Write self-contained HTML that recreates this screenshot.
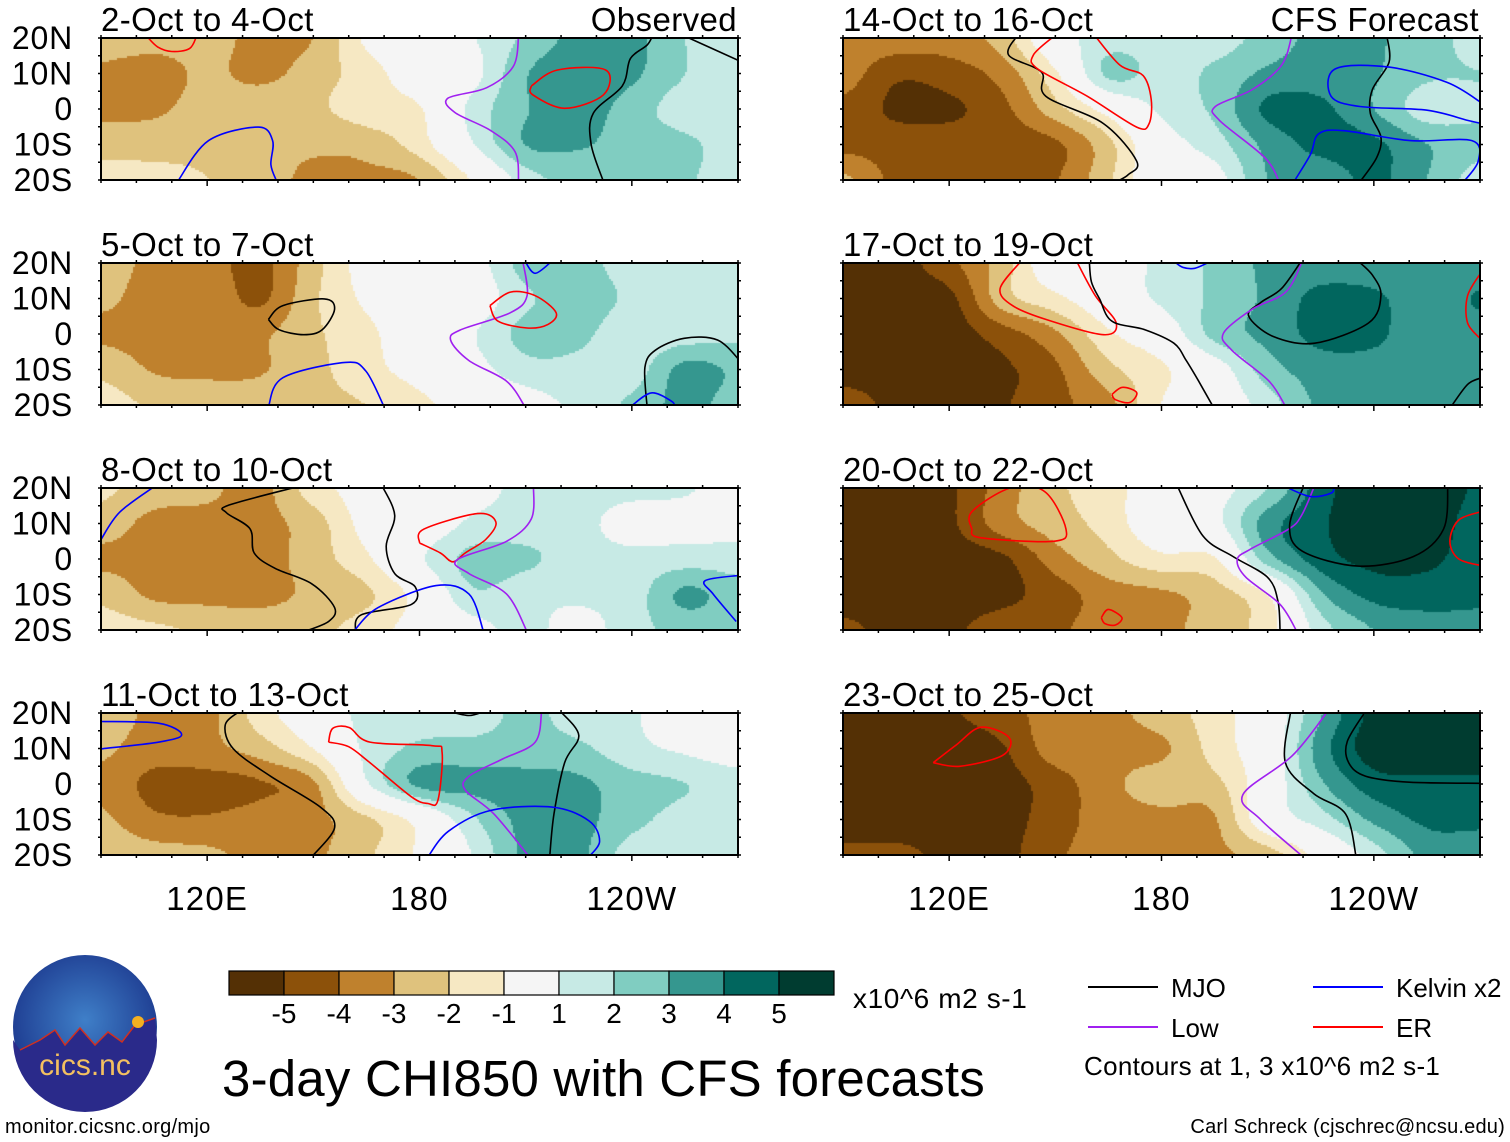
<!DOCTYPE html>
<html><head><meta charset="utf-8">
<style>
html,body{margin:0;padding:0;background:#fff;}
#wrap{position:relative;width:1510px;height:1142px;overflow:hidden;font-family:"Liberation Sans",sans-serif;}
canvas{position:absolute;}
svg{position:absolute;left:0;top:0;}
text{font-family:"Liberation Sans",sans-serif;fill:#000;}
</style></head>
<body>
<div id="wrap">
<svg id="svg" width="1510" height="1142"></svg>
</div>
<script>
// ---- data ----
const lons = [90,105,120,135,150,165,180,195,210,225,240,255,270];
const lats = [20,10,0,-10,-20];
const levels = [-5,-4,-3,-2,-1,1,2,3,4,5];
const levelColors = ['#543005','#8c510a','#bf812d','#dfc27d','#f6e8c3','#f5f5f5','#c7eae5','#80cdc1','#35978f','#01665e','#003c30'];
const panelTitles = ['2-Oct to 4-Oct','14-Oct to 16-Oct','5-Oct to 7-Oct','17-Oct to 19-Oct','8-Oct to 10-Oct','20-Oct to 22-Oct','11-Oct to 13-Oct','23-Oct to 25-Oct'];
const latLabels = ['20N','10N','0','10S','20S'];
const lonTicks = [120,180,240];
const lonTickLabels = ['120E','180','120W'];
const field1 = [
[-2.5,-2.6,-2.6,-3.3,-3,-0.8,0,0.9,2.2,3.3,3.3,2,1.2],
[-3.2,-3.5,-2.8,-3.3,-2.5,-1.5,-0.2,0.6,2.9,3.7,3.2,2,1.5],
[-3.2,-3.2,-2.5,-2.3,-2.2,-1.5,-1.1,1.3,2.9,3.5,2.5,1.5,1.3],
[-2.5,-2.4,-2.3,-2.5,-2.8,-2.6,-1.5,0.9,3,3.1,2.5,2.2,1.5],
[-1.5,-1.7,-2,-2.5,-3.3,-3.3,-3,-0.9,1.5,2.3,2.3,2.1,1.5]];
const field2 = [
[-3.3,-3.4,-3.5,-2.5,0.3,1.5,1.5,1.5,2.4,3.3,3.1,2.5,1.5],
[-3.5,-4.8,-4.5,-3.6,-1.2,2.2,1.6,2.2,3.2,3.5,3.1,2.2,2],
[-4.3,-5.2,-5.2,-4.3,-2.4,-0.5,1.2,2.2,4.2,4.2,3,1.5,1.8],
[-4.3,-4.5,-4.5,-4.5,-4.2,-2.3,0.3,1.5,3.3,4.3,4.2,3,2.3],
[-2.8,-4.3,-4.4,-4.3,-4.1,-2.2,0.2,0.5,3,3.3,4.2,3,1.5]];
const field3 = [
[-2.5,-3.3,-3.6,-4.3,-2.4,-0.5,0,0.4,2.4,2.3,1.6,1.5,1.4],
[-2.8,-3.4,-3.3,-4.2,-2.2,-0.8,0,0.2,1.8,2.4,1.8,1.3,1.2],
[-3.2,-3.4,-3.4,-3.2,-2.2,-1.3,0,0.9,2.3,2.2,1.4,1.5,1.7],
[-2.3,-3.1,-3.2,-3.1,-2.3,-1.4,-0.5,0.5,1.6,1.7,1.5,3.3,2.8],
[-1.5,-2.2,-2.5,-2.5,-2.3,-2,-1.3,-0.3,0.4,1.3,2.2,3.3,2.5]];
const field4 = [
[-5.3,-5.4,-4.3,-2.5,0,0.2,1.3,2.2,3.2,3.4,3.3,3.2,3.3],
[-5.5,-5.5,-5.3,-2.5,-1.3,0,1.2,2.2,3.2,4.3,4.2,3.3,4.1],
[-5.5,-5.5,-5.5,-4.5,-3.2,-1.2,0,2.3,3.3,4.3,4.2,3.3,3.5],
[-5.5,-5.5,-5.5,-5.2,-4.2,-2.3,-1.2,0.3,2.5,3.5,3.6,3.4,3.4],
[-4.5,-5.3,-5.3,-5.1,-4.3,-3.3,-1,0,1.5,3.2,3.4,3.4,3.4]];
const field5 = [
[-1.8,-2.5,-2.8,-3.3,-1.5,-0.5,0,0.5,1.3,1.4,1.3,1.1,0.5],
[-2.5,-3.3,-3.3,-3.3,-2.5,-0.6,0,1.2,1.4,1.3,0.5,0.6,0.5],
[-3.2,-3.3,-3.3,-3.4,-2.5,-1.2,0.8,2.3,2.2,1.4,1.3,1.5,1.5],
[-2.3,-3.2,-3.3,-3.3,-2.8,-2.2,-0.5,1.8,1.3,1.2,1.5,3.2,2.4],
[-1.5,-1.8,-2.2,-2.5,-2.3,-1.5,-0.5,0.5,1.3,0.5,1.6,2.3,2.3]];
const field6 = [
[-5.5,-5.5,-5.2,-3.5,-2.2,-1.5,0,0.5,2,4.5,5.8,5.8,4.8],
[-5.5,-5.5,-5.2,-3.5,-2.5,-1.6,0,0.6,3.5,4.8,5.8,5.6,4.5],
[-5.5,-5.5,-5.5,-5.2,-3.5,-2.3,-1.3,-1.1,2.5,4.5,5.3,5.2,4.5],
[-5.5,-5.5,-5.5,-5.3,-4.5,-3.5,-3.2,-2.5,-1,2.8,4.3,4.5,4.3],
[-4.8,-5.3,-5.2,-4.5,-4.2,-3.5,-3.3,-2.5,-1.5,1.5,3,3.5,3.5]];
const field7 = [
[-2.5,-3.2,-3.3,-1.5,0,1.3,1.4,1.5,2.2,1.5,1.1,0.3,0.2],
[-2.8,-3.5,-3.3,-2.5,-1,1.2,2.2,2.3,2.4,2.2,1.3,0.8,0.3],
[-3.3,-4.3,-4.4,-4.1,-3.2,0.8,3.2,3.3,3.4,3.2,2.4,2,1.5],
[-2.8,-3.8,-3.9,-3.6,-3.3,-2.2,-0.5,1.8,3.3,3.3,2.3,1.6,1.3],
[-2.3,-2.6,-2.8,-3.3,-3.2,-2.2,-0.8,1,3.2,3.2,1.5,1.3,1.2]];
const field8 = [
[-5.2,-5.3,-5.1,-4.5,-3.5,-3.3,-2.5,-1.5,0,2.9,5.3,5.8,5.8],
[-5.5,-5.5,-5.5,-5.1,-3.5,-3.3,-3.2,-1.6,0,3.5,5.5,5.8,5.8],
[-5.5,-5.5,-5.5,-5.4,-4.5,-3.3,-2.5,-2.3,0,2.8,4.5,4.7,4.7],
[-5.5,-5.5,-5.5,-5.4,-4.5,-3.5,-3.3,-3.1,0,1.5,3.2,4.2,4.2],
[-4.8,-4.8,-5.2,-5.3,-4.2,-3.5,-3.3,-3.2,-2.5,-0.5,1.5,3.3,3.5]];
const fields = [field1,field2,field3,field4,field5,field6,field7,field8];
// contour lines [type, [[lon,lat],...]]
const lines1 = [
['low',[[208,20.5],[206.5,12],[199,6],[188,3],[190,-1],[200,-6],[207,-12],[208,-20.5]]],
['er',[[211.6,6.5],[219,11],[232.6,11],[232,4],[221,0.2],[212,4],[211.6,6.5]]],
['mjo',[[246,21],[244.3,18],[239.6,14.2],[237.3,6.5],[229.1,-1.2],[228.5,-9.9],[232,-20.5]]],
['mjo',[[255,20.5],[270.5,13.5]]],
['kelvin',[[111.6,-20.5],[120.4,-8.9],[134.4,-5.1],[138.5,-8.9],[138,-15.7],[139.7,-20.5]]],
['er',[[102.9,20.5],[106,17.5],[110,16.2],[115,17],[117,20.5]]]];
const lines2 = [
['mjo',[[139.5,21],[136.8,15.2],[146.1,10.4],[147.3,3.6],[163.6,-4.1],[173,-14.7],[170.6,-18.5],[167.2,-20.5]]],
['mjo',[[243.7,20.5],[244.3,13.2],[239.6,5.5],[239,-1.2],[242,-7.9],[240.8,-13.7],[236.1,-20.5]]],
['er',[[149.6,20.5],[143.8,15.2],[145,11.3],[159,3.6],[173,-5.1],[176.5,-4.1],[177.1,2.7],[174.8,9.4],[168.3,12.3],[161.3,20.5]]],
['low',[[216.8,20.5],[213.9,12.3],[205.7,5.5],[195.2,0.7],[196.4,-3.2],[209.2,-13.7],[213.3,-20.5]]],
['kelvin',[[270.5,1.7],[260.7,7.5],[244.3,11.8],[229.1,11.3],[227.9,3.6],[236.1,0.7],[254.8,-0.3],[266.5,-3.2],[270.5,-4.1]]],
['kelvin',[[217.4,-20.5],[222.1,-12.8],[224.4,-7],[231.5,-6.1],[250.2,-8.9],[267.7,-8.9],[269.5,-14.7],[265.4,-20.5]]]];
const lines3 = [
['mjo',[[137.3,4.1],[141.4,8],[153.1,9.9],[156,7],[152.5,1.2],[147.3,-0.2],[140.3,1.2],[137.3,4.1]]],
['mjo',[[244.3,-20.5],[243.7,-9.4],[246.6,-4.6],[254.8,-1.2],[264.2,-1.7],[270.5,-7.5]]],
['low',[[209.2,20.5],[210.4,10.8],[205.7,6],[191.7,1.2],[188.8,-1.7],[194,-7.5],[204.6,-13.3],[209.8,-20.5]]],
['er',[[199.9,8],[205.7,11.8],[212.7,10.8],[218.6,6],[216.3,2.7],[210.4,1.7],[202.2,3.6],[199.9,8]]],
['kelvin',[[137.3,-20.5],[141.4,-12.3],[159,-8],[164.8,-10.4],[170,-20.5]]],
['kelvin',[[209.8,20.5],[212.7,17.1],[217.4,20.5]]],
['kelvin',[[239.6,-20.5],[245.5,-16.6],[251.3,-19],[252,-20.5]]]];
const lines4 = [
['er',[[140.3,20.5],[134.4,12.8],[137.9,8],[147.3,4.1],[163.6,-0.2],[167.2,3.1],[161.3,10.8],[156,20.5]]],
['mjo',[[159.6,20.5],[160.2,14.7],[162.5,9.9],[166,3.6],[175.3,1.2],[183.5,-2.6],[187,-7.5],[190.5,-13.3],[194.6,-20.5]]],
['mjo',[[219.8,21],[213.9,12.8],[208.1,8.9],[204.6,5.1],[211.6,-0.7],[223.3,-2.6],[238.5,3.1],[242,10.8],[239.6,16.6],[235,21]]],
['low',[[219.8,20.5],[215.1,11.8],[205.7,7],[197.5,0.2],[199.9,-4.6],[210.4,-13.3],[215.1,-20.5]]],
['er',[[166,-17],[169,-15],[173,-16.5],[171,-19.3],[167,-18.5],[166,-17]]],
['er',[[270.5,17.6],[266.5,10.8],[266.5,3.1],[270.5,-1.7]]],
['kelvin',[[183.5,20.5],[186,18.8],[189.4,18.5],[194,20.5]]],
['mjo',[[261.8,-20.5],[266.5,-14.2],[270.5,-12.3]]]];
const lines5 = [
['kelvin',[[90,5.5],[95.3,13.2],[105.2,20.5]]],
['mjo',[[146.1,20.5],[126.2,15.2],[125.5,13],[132.1,8.5],[133.3,1.7],[139.1,-2.6],[149.6,-7],[156,-13.7],[154.3,-17.6],[147.3,-20.5]]],
['mjo',[[169.5,20.5],[173,12.3],[170.6,3.6],[173,-4.1],[178.8,-7.9],[177.7,-12.8],[163.6,-15.7],[161.9,-20.5]]],
['kelvin',[[161.3,-20.5],[168.3,-13.7],[184.7,-7.5],[194,-9.9],[198.1,-20.5]]],
['er',[[180,4.5],[181.2,8.4],[196.4,12.8],[201.6,10.4],[198.7,5.5],[192.9,1.7],[189.4,-0.8],[185.9,1.7],[180,4.5]]],
['low',[[212.2,20.5],[211.6,11.3],[204.6,5],[190.5,-0.3],[194,-4.1],[204.6,-9.9],[210.4,-20.5]]],
['kelvin',[[270.5,-4.6],[260.7,-6.1],[263,-9.9],[269.5,-17.6]]]];
const lines6 = [
['mjo',[[184.5,20.5],[191.7,6.5],[200.2,0.7],[209.9,-5.1],[212.9,-11.8],[213.5,-20.5]]],
['low',[[223.2,20.5],[219.6,12.3],[215.9,8.4],[205,2.7],[201.4,-0.2],[203.8,-5.1],[213.5,-12.8],[218.3,-20.5]]],
['mjo',[[220.4,21],[216.2,9.4],[219.8,2.2],[235.5,-2],[251.2,0.7],[259.7,8.4],[260.9,21]]],
['er',[[126.4,8.4],[126.4,13.3],[137.3,20],[147,19],[153,8.4],[149.4,5],[128.8,6],[126.4,8.4]]],
['er',[[271,13.5],[264,11],[261.5,5],[264,0],[271,-2]]],
['er',[[163,-16.5],[165,-14.2],[168.8,-16.5],[167,-18.6],[164,-18.2],[163,-16.5]]],
['kelvin',[[214.7,20.5],[222,17.6],[228,18.6],[228.6,20.5]]]];
const lines7 = [
['kelvin',[[90,17.6],[106.4,17.1],[112.8,13.9],[106.4,11.8],[90,9.9]]],
['mjo',[[129.2,20.5],[125.1,16.6],[127.4,9.9],[137.9,2.2],[152,-6.5],[156,-12.3],[149.6,-20.5]]],
['mjo',[[219.8,20.5],[225,13.7],[221,6],[218,-8.4],[216.8,-20.5]]],
['mjo',[[188,20.5],[194,19.3],[198.5,20.5]]],
['er',[[154.3,11.8],[155.5,15.7],[160.2,15.9],[166,11.8],[183.5,10.8],[186.4,8.9],[185.2,-4.6],[182.4,-5.5],[177.7,-3.6],[166,6],[160,10.5],[154.3,11.8]]],
['low',[[214.5,20.5],[212.7,11.8],[203.4,7],[194,2.2],[192.9,-1.7],[201,-8.4],[211,-20.5]]],
['kelvin',[[182.4,-20.5],[188.2,-13.3],[199.9,-7.5],[217.4,-6.5],[227.9,-10.4],[230.9,-16.1],[227.9,-20.5]]]];
const lines8 = [
['mjo',[[216.5,20.5],[215,6],[223,-2.7],[232,-8.4],[235,-20.5]]],
['mjo',[[238,21],[232.5,12],[232.9,6],[237.7,2.2],[250,0.5],[271,0.2]]],
['low',[[227,20.5],[217,8],[203,-3],[208,-10],[220,-20.5]]],
['er',[[115.5,6],[122,11],[129,16],[137,13],[135,8],[123,5],[115.5,6]]]];
const panelLines = [lines1,lines2,lines3,lines4,lines5,lines6,lines7,lines8];
const lineColors = {mjo:'#000000',low:'#a020f0',kelvin:'#0000ff',er:'#ff0000'};

// ---- layout ----
const NS='http://www.w3.org/2000/svg';
const svg=document.getElementById('svg');
const wrap=document.getElementById('wrap');
const colX=[101,843], rowY=[38,263,488,713], PW=637, PH=142;
function mk(tag,attrs,parent){const e=document.createElementNS(NS,tag);for(const k in attrs)e.setAttribute(k,attrs[k]);(parent||svg).appendChild(e);return e;}
function colorFor(v){let i=0;while(i<levels.length&&v>=levels[i])i++;return levelColors[i];}
function cr(p0,p1,p2,p3,t){return 0.5*((2*p1)+(-p0+p2)*t+(2*p0-5*p1+4*p2-p3)*t*t+(-p0+3*p1-3*p2+p3)*t*t*t);}
function sample(f,lon,lat){
  let fx=(lon-90)/15, fy=(20-lat)/10;
  fx=Math.max(0,Math.min(12,fx)); fy=Math.max(0,Math.min(4,fy));
  const i0=Math.min(11,Math.floor(fx)), j0=Math.min(3,Math.floor(fy));
  const tx=fx-i0, ty=fy-j0;
  const ci=k=>Math.max(0,Math.min(12,k)), cj=k=>Math.max(0,Math.min(4,k));
  const rows=[];
  for(let dj=-1;dj<=2;dj++){
    const r=f[cj(j0+dj)];
    rows.push(cr(r[ci(i0-1)],r[ci(i0)],r[ci(i0+1)],r[ci(i0+2)],tx));
  }
  return cr(rows[0],rows[1],rows[2],rows[3],ty)+0.013;
}
function smoothPath(pts){
  let d='M'+pts[0][0].toFixed(1)+' '+pts[0][1].toFixed(1);
  for(let i=0;i<pts.length-1;i++){
    const p0=pts[Math.max(0,i-1)],p1=pts[i],p2=pts[i+1],p3=pts[Math.min(pts.length-1,i+2)];
    const c1=[p1[0]+(p2[0]-p0[0])/6,p1[1]+(p2[1]-p0[1])/6];
    const c2=[p2[0]-(p3[0]-p1[0])/6,p2[1]-(p3[1]-p1[1])/6];
    d+=' C'+c1[0].toFixed(1)+' '+c1[1].toFixed(1)+' '+c2[0].toFixed(1)+' '+c2[1].toFixed(1)+' '+p2[0].toFixed(1)+' '+p2[1].toFixed(1);
  }
  return d;
}
for(let p=0;p<8;p++){
  const x0=colX[p%2], y0=rowY[Math.floor(p/2)];
  const xs=lon=>x0+(lon-90)/180*PW;
  const ys=lat=>y0+(20-lat)/40*PH;
  const g=mk('g',{});
  
  
  const cv=document.createElement('canvas');
  cv.width=PW;cv.height=PH;cv.style.left=x0+'px';cv.style.top=y0+'px';
  
  
  wrap.insertBefore(cv,svg);
  const ctx=cv.getContext('2d');
  const st=2;
  for(let py=0;py<PH;py+=st){for(let px=0;px<PW;px+=st){
    const lon=90+(px+st/2)/PW*180, lat=20-(py+st/2)/PH*40;
    ctx.fillStyle=colorFor(sample(fields[p],lon,lat));
    ctx.fillRect(px,py,st,st);
  }}
  const clip=mk('clipPath',{id:'clip'+p},g);
  mk('rect',{x:x0,y:y0,width:PW,height:PH},clip);
  panelLines[p].forEach((ln,k)=>{
    const pts=ln[1].map(pt=>[xs(pt[0]),ys(pt[1])]);
    const path=mk('path',{d:smoothPath(pts),fill:'none',stroke:lineColors[ln[0]],'stroke-width':1.6,'stroke-linejoin':'round','clip-path':'url(#clip'+p+')'},g);
    
    
  });
  const fr=mk('rect',{x:x0,y:y0,width:PW,height:PH,fill:'none',stroke:'#000','stroke-width':2},g);
  
  
  for(let lon=90;lon<=270;lon+=10){
    mk('line',{x1:xs(lon),x2:xs(lon),y1:y0+PH,y2:y0+PH+(lonTicks.includes(lon)?6:3),stroke:'#000','stroke-width':1.5},g);
    mk('line',{x1:xs(lon),x2:xs(lon),y1:y0,y2:y0-3,stroke:'#000','stroke-width':1.5},g);
  }
  for(let lat=-20;lat<=20;lat+=5){
    mk('line',{x1:x0,x2:x0-3,y1:ys(lat),y2:ys(lat),stroke:'#000','stroke-width':1.5},g);
    mk('line',{x1:x0+PW,x2:x0+PW+3,y1:ys(lat),y2:ys(lat),stroke:'#000','stroke-width':1.5},g);
  }
  const t=mk('text',{x:x0,y:y0-7,'font-size':33,'letter-spacing':0.4},g);t.textContent=panelTitles[p];
  
  
  if(p%2===0){
    lats.forEach((lat,i)=>{const l=mk('text',{x:73,y:ys(lat)+11,'font-size':32,'letter-spacing':0.8,'text-anchor':'end'},g);l.textContent=latLabels[i];
      
      });
  }
  if(p>=6){
    lonTicks.forEach((lon,i)=>{const l=mk('text',{x:xs(lon),y:910,'font-size':33,'letter-spacing':1.2,'text-anchor':'middle'},g);l.textContent=lonTickLabels[i];
      
      });
  }
}
const o1=mk('text',{x:737,y:31,'font-size':33,'letter-spacing':0.4,'text-anchor':'end'});o1.textContent='Observed';


const o2=mk('text',{x:1479,y:31,'font-size':33,'letter-spacing':0.4,'text-anchor':'end'});o2.textContent='CFS Forecast';



// colorbar
const cb=mk('g',{});


const cbX=229,cbW=55,cbY=971,cbH=24;
levelColors.forEach((c,i)=>{const r=mk('rect',{x:cbX+i*cbW,y:cbY,width:cbW,height:cbH,fill:c,stroke:'#000','stroke-width':1.2},cb);
  
  });
levels.forEach((v,i)=>{const l=mk('text',{x:cbX+(i+1)*cbW,y:1023,'font-size':28,'text-anchor':'middle'},cb);l.textContent=String(v);
  
  });
const un=mk('text',{x:853,y:1008,'font-size':28,'letter-spacing':0.6});un.textContent='x10^6 m2 s-1';


const ti=mk('text',{x:222,y:1096,'font-size':51,'letter-spacing':0.2});ti.textContent='3-day CHI850 with CFS forecasts';



// legend
const lg=mk('g',{});


const legendNames=['MJO','Kelvin x2','Low','ER'];
const legendKeys=['mjo','kelvin','low','er'];
const legendPos=[[1088,987],[1313,987],[1088,1027],[1313,1027]];
legendNames.forEach((n,i)=>{
  const [lx,ly]=legendPos[i];
  const ln=mk('line',{x1:lx,x2:lx+70,y1:ly,y2:ly,stroke:lineColors[legendKeys[i]],'stroke-width':2},lg);
  
  
  const t=mk('text',{x:lx+83,y:ly+10,'font-size':26},lg);t.textContent=n;
  
  
});
const ct=mk('text',{x:1084,y:1075,'font-size':26,'letter-spacing':0.3});ct.textContent='Contours at 1, 3 x10^6 m2 s-1';


const f1=mk('text',{x:5,y:1133,'font-size':20,'letter-spacing':0.3});f1.textContent='monitor.cicsnc.org/mjo';


const f2=mk('text',{x:1505,y:1133,'font-size':20,'letter-spacing':0.2,'text-anchor':'end'});f2.textContent='Carl Schreck (cjschrec@ncsu.edu)';



// logo
const lo=mk('g',{});


const defs=mk('defs',{});
const rg=mk('radialGradient',{id:'lg',cx:'0.5',cy:'0.45',r:'0.55'},defs);
mk('stop',{offset:'0','stop-color':'#3f7fc8'},rg);mk('stop',{offset:'1','stop-color':'#1d3a8f'},rg);
mk('circle',{cx:85,cy:1027,r:72,fill:'url(#lg)'},lo);
mk('path',{d:'M20 1050 L40 1040 L55 1030 L65 1045 L80 1028 L95 1045 L108 1032 L122 1042 L135 1025 L155 1018 L157 1040 A72 72 0 0 1 13 1040 Z',fill:'#2a2a8a'},lo);
mk('polyline',{points:'20,1050 40,1040 55,1030 65,1045 80,1028 95,1045 108,1032 122,1042 135,1025 155,1018',fill:'none',stroke:'#d03020','stroke-width':1.5},lo);
mk('circle',{cx:138,cy:1022,r:6,fill:'#f5b020'},lo);
const lt=mk('text',{x:85,y:1075,'font-size':30,'text-anchor':'middle',style:'fill:#f3c060'},lo);lt.textContent='cics.nc';


</script>
</body></html>
